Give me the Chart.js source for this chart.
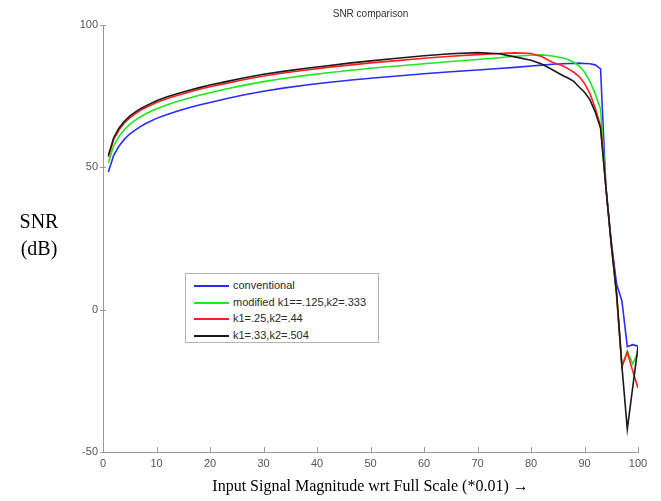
<!DOCTYPE html>
<html>
<head>
<meta charset="utf-8">
<script src="https://cdn.jsdelivr.net/npm/chart.js@4/dist/chart.umd.min.js"></script>
<style>
  html, body { margin: 0; padding: 0; background: #fff; }
  #wrap { position: relative; width: 661px; height: 501px; }
  #snrChart { position: absolute; left: 0; top: 0; }
  #yLabel {
    position: absolute; left: 8px; top: 208px; width: 62px;
    font-family: "Liberation Serif", "Times New Roman", serif; font-size: 20px;
    line-height: 27px; text-align: center; color: #000;
  }
  #legendBox {
    position: absolute; left: 185px; top: 273px; width: 194px; height: 70px;
    border: 1px solid #b4b4b4; background: #fff; box-sizing: border-box;
    padding-top: 3px;
    font-family: "Liberation Sans", Arial, sans-serif; font-size: 11px; color: #2a2a2a;
  }
  .legend-row { position: relative; height: 16.5px; line-height: 16.5px; }
  .legend-line { position: absolute; left: 8px; top: 8px; width: 35px; height: 2px; }
  .legend-text { position: absolute; left: 47px; top: 0; white-space: nowrap; }
</style>
</head>
<body>
<div id="wrap">
  <canvas id="snrChart" width="661" height="501"></canvas>
  <div id="yLabel">SNR<br>(dB)</div>
  <div id="legendBox"></div>
</div>
<script>
(function () {
  // input level (x axis, *0.01 of full scale)
  const inputLevel = [1, 2, 3, 4, 5, 6, 7, 8, 10, 12, 14, 16, 18, 20, 23, 26, 30, 34, 38, 42, 46, 50,
    55, 60, 65, 70, 74, 77, 80, 82, 84, 86, 87, 88, 89, 90, 91, 92, 93, 94, 95, 96, 97, 98, 99, 100];

  const conventional = [48.4, 54.2, 57.5, 59.9, 61.7, 63.1, 64.3, 65.4, 67.2, 68.6, 69.8, 70.9, 71.9, 72.8,
    74.1, 75.3, 76.7, 77.9, 78.9, 79.8, 80.6, 81.3, 82.1, 82.9, 83.6, 84.2, 84.7, 85.1, 85.6,
    85.9, 86.2, 86.4, 86.5, 86.5, 86.6, 86.5, 86.4, 86.0, 84.6, 43, 24, 9, 3, -13, -12.3, -12.8];

  const modified = [51.6, 57.6, 60.9, 63.3, 65.1, 66.5, 67.7, 68.8, 70.6, 72.0, 73.2, 74.3, 75.3, 76.2,
    77.5, 78.7, 80.1, 81.3, 82.3, 83.2, 84.0, 84.8, 85.6, 86.4, 87.2, 87.9, 88.5, 89.0, 89.4,
    89.5, 89.1, 88.4, 87.8, 86.9, 85.6, 83.5, 80.3, 75.8, 70.5, 43, 23, 5, -20, -14.5, -19, -15.3];

  const k25 = [53.6, 59.8, 63.2, 65.6, 67.4, 68.8, 70.0, 71.0, 72.8, 74.2, 75.3, 76.4, 77.4, 78.3,
    79.5, 80.7, 82.1, 83.2, 84.2, 85.1, 85.9, 86.7, 87.5, 88.3, 89.0, 89.6, 90.0, 90.2, 90.0,
    88.9, 86.9, 85.6, 84.6, 83.4, 81.9, 79.5, 76.0, 70.8, 64.5, 43, 23, 5, -20, -15, -21.5, -27.5];

  const k33 = [54.2, 60.4, 63.8, 66.2, 68.0, 69.4, 70.6, 71.6, 73.4, 74.8, 75.9, 77.0, 78.0, 78.9,
    80.1, 81.3, 82.7, 83.8, 84.8, 85.7, 86.6, 87.4, 88.3, 89.2, 89.9, 90.3, 89.9, 88.8, 87.6,
    86.3, 84.3, 82.2, 81.3, 80.2, 78.2, 76.4, 73.8, 69.5, 63.8, 43, 23, 6, -20, -42, -27.5, -13];

  const seriesLabels = ['conventional', 'modified k1==.125,k2=.333', 'k1=.25,k2=.44', 'k1=.33,k2=.504'];
  const seriesColors = ['#2b2bff', '#1fe81f', '#ff1f1f', '#1a1a1a'];
  const seriesValues = [conventional, modified, k25, k33];

  const xTicks = [0, 10, 20, 30, 40, 50, 60, 70, 80, 90, 100];
  const yTicks = [-50, 0, 50, 100];

  const sansFont = '"Liberation Sans", Arial, sans-serif';
  const serifFont = '"Liberation Serif", "Times New Roman", serif';

  function toPoints(values) {
    return values.map((v, i) => ({ x: inputLevel[i], y: v }));
  }

  // title + small inside tick marks, like the matlab figure
  const figureExtras = {
    id: 'figureExtras',
    afterDraw(chart) {
      const { ctx, chartArea, scales } = chart;
      ctx.save();
      ctx.strokeStyle = '#9a9a9a';
      ctx.lineWidth = 1;
      ctx.beginPath();
      xTicks.forEach((t) => {
        const px = Math.round(scales.x.getPixelForValue(t)) + 0.5;
        ctx.moveTo(px, chartArea.bottom);
        ctx.lineTo(px, chartArea.bottom - 5);
      });
      yTicks.forEach((t) => {
        const py = Math.round(scales.y.getPixelForValue(t)) + 0.5;
        ctx.moveTo(chartArea.left - 3, py);
        ctx.lineTo(chartArea.left + 3, py);
      });
      ctx.stroke();

      ctx.fillStyle = '#333';
      ctx.font = '10px ' + sansFont;
      ctx.textAlign = 'center';
      ctx.textBaseline = 'middle';
      ctx.fillText('SNR comparison', (chartArea.left + chartArea.right) / 2, 14);
      ctx.restore();
    },
  };

  new Chart(document.getElementById('snrChart'), {
    type: 'line',
    data: {
      datasets: seriesValues.map((values, i) => ({
        label: seriesLabels[i],
        data: toPoints(values),
        borderColor: seriesColors[i],
        backgroundColor: seriesColors[i],
        borderWidth: 1.6,
        pointRadius: 0,
        tension: 0,
        order: 4 - i,
      })),
    },
    options: {
      responsive: false,
      animation: false,
      devicePixelRatio: 1,
      layout: { padding: { top: 25, right: 23, left: 0, bottom: 0 } },
      plugins: {
        legend: { display: false },
        tooltip: { enabled: false },
        title: { display: false },
      },
      scales: {
        x: {
          type: 'linear',
          min: 0,
          max: 100,
          afterFit(scale) { scale.height = 49; },
          afterBuildTicks(scale) { scale.ticks = xTicks.map((v) => ({ value: v })); },
          grid: { drawOnChartArea: false, drawTicks: false },
          border: { color: '#9a9a9a', width: 1 },
          ticks: { color: '#555', padding: 5, font: { family: sansFont, size: 11 }, maxRotation: 0 },
          title: {
            display: true,
            text: 'Input Signal Magnitude wrt Full Scale (*0.01) \u2192',
            color: '#000',
            font: { family: serifFont, size: 16 },
            padding: { top: 0, bottom: 5 },
          },
        },
        y: {
          min: -50,
          max: 100,
          afterFit(scale) { scale.width = 103; },
          afterBuildTicks(scale) { scale.ticks = yTicks.map((v) => ({ value: v })); },
          grid: { drawOnChartArea: false, drawTicks: false },
          border: { color: '#9a9a9a', width: 1 },
          ticks: { color: '#555', padding: 5, font: { family: sansFont, size: 11 } },
        },
      },
    },
    plugins: [figureExtras],
  });

  // legend box drawn in html, inside the plot
  document.getElementById('legendBox').innerHTML = seriesLabels
    .map(
      (label, i) => `
        <div class="legend-row">
          <span class="legend-line" style="background:${seriesColors[i]}"></span>
          <span class="legend-text">${label}</span>
        </div>`
    )
    .join('');
})();
</script>
</body>
</html>
